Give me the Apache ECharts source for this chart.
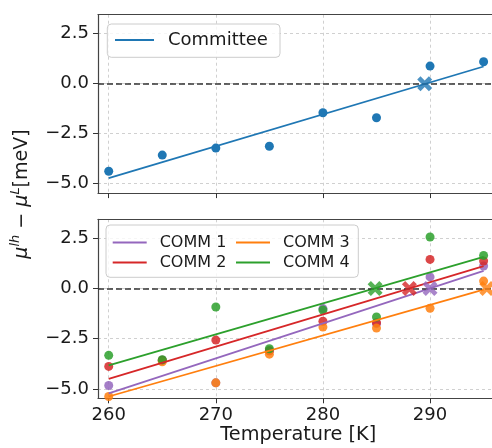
<!DOCTYPE html>
<html><head><meta charset="utf-8">
<script src="https://cdn.jsdelivr.net/npm/echarts@6/dist/echarts.min.js"></script>
<style>html,body{margin:0;padding:0;background:#fff}#c{width:492px;height:448px}</style>
</head><body><div id="c"></div>
<script>
// ---- data ----
const temps = [260, 265, 270, 275, 280, 285, 290, 295];
const xTicks = [260, 270, 280, 290];
const yTicks = [-5, -2.5, 0, 2.5];

const committee = [-4.38, -3.57, -3.22, -3.13, -1.45, -1.70, 0.88, 1.10];
const committeeFit = [[260, -4.72], [295, 0.86]];
const committeeCross = [289.5, 0];

const comm1 = [-4.83, -3.57, -4.70, -3.10, -1.00, -1.75, 0.58, 1.12];
const comm2 = [-3.88, -3.57, -2.57, -3.10, -1.63, -1.70, 1.45, 1.37];
const comm3 = [-5.38, -3.65, -4.70, -3.27, -1.92, -1.97, -0.98, 0.37];
const comm4 = [-3.33, -3.55, -0.92, -3.00, -1.07, -1.42, 2.57, 1.65];

const comm1Fit = [[260, -5.22], [295, 0.88]];
const comm2Fit = [[260, -4.50], [295, 1.12]];
const comm3Fit = [[260, -5.38], [295, -0.05]];
const comm4Fit = [[260, -3.83], [295, 1.58]];

const comm1Cross = [290.0, 0];
const comm2Cross = [288.07, 0];
const comm3Cross = [295.3, 0];
const comm4Cross = [284.87, 0];

const names = ['COMM 1', 'COMM 2', 'COMM 3', 'COMM 4'];
// ---- style ----
const C = { blue: '#1f77b4', purple: '#9467bd', red: '#d62728', orange: '#ff7f0e', green: '#2ca02c' };
const FONT = 'DejaVu Sans';
const SPINE = { color: '#444', width: 1.2 };
const XPATH = 'path://M0,2.2 L2.2,0 L5,2.8 L7.8,0 L10,2.2 L7.2,5 L10,7.8 L7.8,10 L5,7.2 L2.2,10 L0,7.8 L2.8,5 Z';

const fmt = v => (v < 0 ? '\u2212' + Math.abs(v).toFixed(1) : v.toFixed(1));

function xAxisCfg(gi, labels) {
  return {
    type: 'value', gridIndex: gi, min: 259, max: 296.4,
    axisLine: { show: true, onZero: false, lineStyle: SPINE },
    axisTick: { show: true, customValues: xTicks, length: 5, lineStyle: { color: '#333', width: 1 } },
    axisLabel: { show: labels, customValues: xTicks, fontSize: 18, color: '#1a1a1a', fontFamily: FONT, margin: 8 },
    splitLine: { show: true, lineStyle: { color: '#c4c4c4', type: [3, 3], width: 0.8 } },
    name: labels ? 'Temperature [K]' : '', nameLocation: 'middle', nameGap: 27,
    nameTextStyle: { fontSize: 19.3, color: '#1a1a1a', fontFamily: FONT }
  };
}
function topAxisCfg(gi) {
  return {
    type: 'value', gridIndex: gi, position: 'top', min: 259, max: 296.4,
    axisLine: { show: true, onZero: false, lineStyle: SPINE },
    axisTick: { show: false }, axisLabel: { show: false }, splitLine: { show: false }
  };
}
function yAxisCfg(gi) {
  return {
    type: 'value', gridIndex: gi, min: -5.47, max: 3.45,
    axisLine: { show: true, onZero: false, lineStyle: SPINE },
    axisTick: { show: true, customValues: yTicks, length: 5, lineStyle: { color: '#333', width: 1 } },
    axisLabel: { customValues: yTicks, formatter: fmt, fontSize: 18, color: '#1a1a1a', fontFamily: FONT, margin: 9 },
    splitLine: { show: true, lineStyle: { color: '#c4c4c4', type: [3, 3], width: 0.8 } }
  };
}
function pts(name, ys, color, gi, op) {
  return { type: 'scatter', name, xAxisIndex: gi, yAxisIndex: gi, symbolSize: 9, z: 3,
    itemStyle: { color, opacity: op }, data: temps.map((t, i) => [t, ys[i]]) };
}
function fit(name, d, color, gi) {
  return { type: 'line', name, xAxisIndex: gi, yAxisIndex: gi, symbol: 'none', z: 4,
    lineStyle: { color, width: 1.8 }, itemStyle: { color }, data: d };
}
function cross(name, p, color, gi) {
  return { type: 'scatter', name, xAxisIndex: gi, yAxisIndex: gi, symbol: XPATH, symbolSize: 15, z: 6,
    itemStyle: { color }, data: [p] };
}
function zero(gi) {
  return { type: 'line', name: 'zero' + gi, xAxisIndex: gi, yAxisIndex: gi, data: [], z: 2,
    markLine: { silent: true, symbol: 'none', label: { show: false },
      lineStyle: { color: '#333', type: [6, 3], width: 1.5 }, data: [{ yAxis: 0 }] } };
}

const cols = [C.purple, C.red, C.orange, C.green];
const commVals = [comm1, comm2, comm3, comm4];
const commFits = [comm1Fit, comm2Fit, comm3Fit, comm4Fit];
const commCross = [comm1Cross, comm2Cross, comm3Cross, comm4Cross];

const series = [
  zero(0), zero(1),
  pts('Committee pts', committee, C.blue, 0, 1),
  fit('Committee', committeeFit, C.blue, 0),
  cross('Committee x', committeeCross, C.blue, 0)
];
names.forEach((n, i) => series.push(pts(n + ' pts', commVals[i], cols[i], 1, 0.85)));
names.forEach((n, i) => series.push(fit(n, commFits[i], cols[i], 1)));
names.forEach((n, i) => series.push(cross(n + ' x', commCross[i], cols[i], 1)));

const legendText = (size, pad) => ({ fontSize: size, color: '#1a1a1a', fontFamily: FONT, lineHeight: size + 2, padding: [0, 0, 0, pad] });
const legendBase = { orient: 'vertical', icon: 'rect', itemHeight: 2, padding: 0, z: 80, selectedMode: false };

const option = {
  animation: false,
  backgroundColor: '#fff',
  grid: [
    { left: 98, top: 14.7, width: 400.6, height: 178.4, outerBoundsMode: 'none', show: false },
    { left: 98, top: 219.3, width: 400.6, height: 179, outerBoundsMode: 'none', show: false }
  ],
  xAxis: [xAxisCfg(0, false), xAxisCfg(1, true), topAxisCfg(0), topAxisCfg(1)],
  yAxis: [yAxisCfg(0), yAxisCfg(1)],
  legend: [
    Object.assign({}, legendBase, { data: ['Committee'], left: 115, top: 30, itemWidth: 39, textStyle: legendText(18, 9) }),
    Object.assign({}, legendBase, { data: [names[0], names[1]], left: 112.7, top: 233.5, itemWidth: 34, itemGap: 2, textStyle: legendText(16, 8) }),
    Object.assign({}, legendBase, { data: [names[2], names[3]], left: 236, top: 233.5, itemWidth: 34, itemGap: 2, textStyle: legendText(16, 8) })
  ],
  graphic: [
    { type: 'rect', z: 50, shape: { x: 107.3, y: 24, width: 172.7, height: 33.3, r: 4 },
      style: { fill: 'rgba(255,255,255,0.8)', stroke: '#cccccc', lineWidth: 1 } },
    { type: 'rect', z: 50, shape: { x: 106, y: 225, width: 252.3, height: 52.3, r: 4 },
      style: { fill: 'rgba(255,255,255,0.8)', stroke: '#cccccc', lineWidth: 1 } },
    { type: 'text', z: 50, x: 22, y: 194, rotation: Math.PI / 2,
      style: {
        text: '{m|\u03bc}{s|lh}{n| \u2212 }{m|\u03bc}{s|L}{n|[meV]}',
        align: 'center', verticalAlign: 'middle', fill: '#1a1a1a',
        rich: {
          m: { fontSize: 19, fontFamily: FONT, fontStyle: 'italic', lineHeight: 26, fill: '#1a1a1a' },
          n: { fontSize: 19, fontFamily: FONT, lineHeight: 26, fill: '#1a1a1a' },
          s: { fontSize: 13, fontFamily: FONT, fontStyle: 'italic', lineHeight: 14, verticalAlign: 'top', fill: '#1a1a1a' }
        }
      } }
  ],
  series
};
const chart = echarts.init(document.getElementById('c'), null, { renderer: 'canvas' });
chart.setOption(option);
</script>
</body></html>
